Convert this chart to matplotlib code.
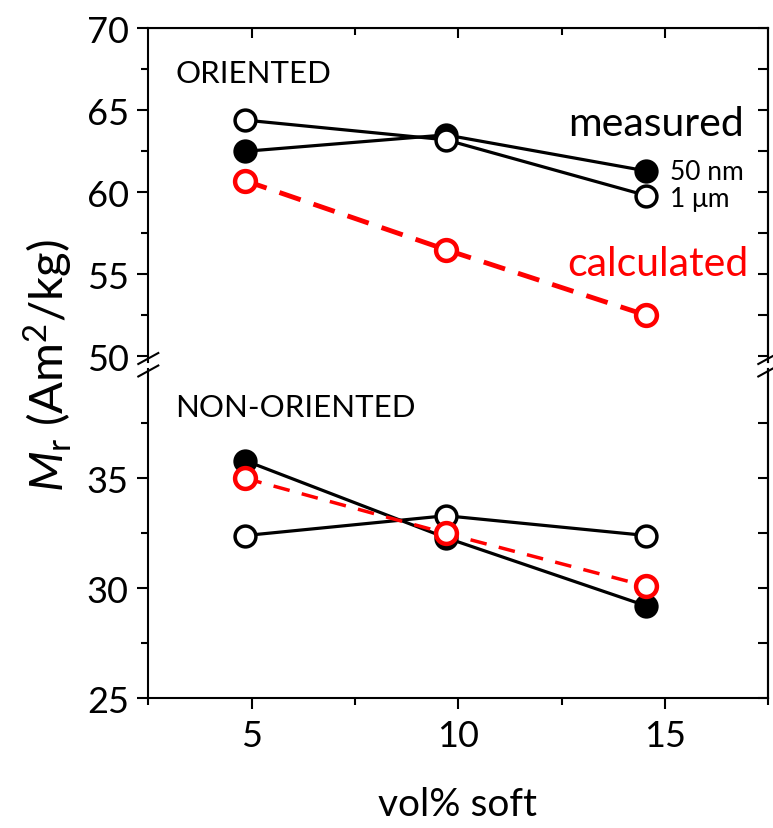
import matplotlib
matplotlib.use('Agg')
import matplotlib.pyplot as plt
from matplotlib.lines import Line2D

plt.rcParams['font.family'] = ['Lato', 'DejaVu Sans']
plt.rcParams['mathtext.fontset'] = 'custom'
plt.rcParams['mathtext.rm'] = 'Lato'
plt.rcParams['mathtext.it'] = 'Lato:italic'

# vol% soft phase
vol = [4.85, 9.7, 14.55]

# oriented magnets
ori_50nm = [62.5, 63.5, 61.3]
ori_1um = [64.4, 63.2, 59.8]
ori_calc = [60.7, 56.5, 52.5]

# non-oriented magnets
non_50nm = [35.8, 32.3, 29.2]
non_1um = [32.4, 33.3, 32.4]
non_calc = [35.0, 32.5, 30.1]

W, H = 773, 829
fig = plt.figure(figsize=(W / 100, H / 100), dpi=100)

left = 148.3 / W
width = 620 / W
ax1 = fig.add_axes([left, 1 - 363 / H, width, 333.7 / H])
ax2 = fig.add_axes([left, 1 - 699.3 / H, width, 329.3 / H])

lw_sp = 1.5
for ax in (ax1, ax2):
    for s in ax.spines.values():
        s.set_linewidth(lw_sp)
    ax.set_xlim(2.5, 17.5)
ax1.spines['bottom'].set_visible(False)
ax2.spines['top'].set_visible(False)

ax1.set_ylim(49.65, 70)
ax2.set_ylim(25, 39.97)

ax1.set_yticks([50, 55, 60, 65, 70])
ax1.set_yticks([52.5, 57.5, 62.5, 67.5], minor=True)
ax2.set_yticks([25, 30, 35])
ax2.set_yticks([27.5, 32.5, 37.5], minor=True)
for ax in (ax1, ax2):
    ax.set_xticks([5, 10, 15])
    ax.set_xticks([2.5, 7.5, 12.5, 17.5], minor=True)

# outer ticks on left / bottom
for ax in (ax1, ax2):
    ax.tick_params(axis='y', which='major', direction='out', length=8, width=lw_sp,
                   labelsize=26, pad=6)
    ax.tick_params(axis='y', which='minor', direction='out', length=5, width=lw_sp)
ax1.tick_params(axis='x', which='both', bottom=False, labelbottom=False)
ax2.tick_params(axis='x', which='major', direction='out', length=8, width=lw_sp,
                labelsize=26, pad=7)
ax2.tick_params(axis='x', which='minor', direction='out', length=5, width=lw_sp)

# mirrored inner ticks on right / top
for ax in (ax1, ax2):
    r = ax.secondary_yaxis('right')
    r.set_yticks(ax.get_yticks())
    r.set_yticks(ax.get_yticks(minor=True), minor=True)
    r.tick_params(which='both', direction='in', length=7, width=lw_sp, labelright=False)
    r.spines['right'].set_linewidth(lw_sp)
t = ax1.secondary_xaxis('top')
t.set_xticks([5, 10, 15])
t.set_xticks([7.5, 12.5], minor=True)
t.tick_params(which='major', direction='in', length=7, width=lw_sp, labeltop=False)
t.tick_params(which='minor', direction='in', length=5, width=lw_sp)

ms = 15
ax1.plot(vol, ori_50nm, '-o', color='k', lw=2.3, ms=ms, mfc='k', mew=2.5, zorder=3)
ax1.plot(vol, ori_1um, '-o', color='k', lw=2.3, ms=ms, mfc='white', mew=2.5, zorder=4)
ax1.plot(vol, ori_calc, 'o', color='red', ms=ms, mfc='white', mew=3.2, zorder=5,
         linestyle=(0, (4.6, 2.8)), lw=3.5)

ax2.plot(vol, non_50nm, '-o', color='k', lw=2.3, ms=ms, mfc='k', mew=2.5, zorder=3)
ax2.plot(vol, non_1um, '-o', color='k', lw=2.3, ms=ms, mfc='white', mew=2.5, zorder=4)
ax2.plot(vol, non_calc, 'o', color='red', ms=ms, mfc='white', mew=3.2, zorder=5,
         linestyle=(0, (4.8, 3.6)), lw=2.5)

ax1.text(3.15, 66.71, 'ORIENTED', fontsize=22.5, va='baseline', ha='left')
ax2.text(3.15, 37.85, 'NON-ORIENTED', fontsize=22.5, va='baseline', ha='left')
ax1.text(16.9, 63.51, 'measured', fontsize=29.5, va='baseline', ha='right')
ax1.text(15.13, 60.81, '50 nm', fontsize=19, va='baseline', ha='left')
ax1.text(15.13, 59.18, '1 \u03bcm', fontsize=19, va='baseline', ha='left')
ax1.text(17.02, 54.96, 'calculated', fontsize=29.5, va='baseline', ha='right', color='red')

fig.text(48 / W, 1 - 366 / H, r'$\mathit{M}_\mathrm{r}$ (Am$^2$/kg)', fontsize=34,
         rotation=90, ha='center', va='center')
fig.text(458 / W, 1 - 805 / H, 'vol% soft', fontsize=28, ha='center', va='center')

# axis break marks on both side spines
def brk(xp, yp):
    fig.add_artist(Line2D([(xp - 10) / W, (xp + 10) / W],
                          [1 - (yp + 5.5) / H, 1 - (yp - 5.5) / H],
                          transform=fig.transFigure, color='k', lw=1.5))

for xp in (148.3, 768.3):
    brk(xp, 359.5)
    brk(xp, 372)

fig.savefig('out.png', dpi=100)
